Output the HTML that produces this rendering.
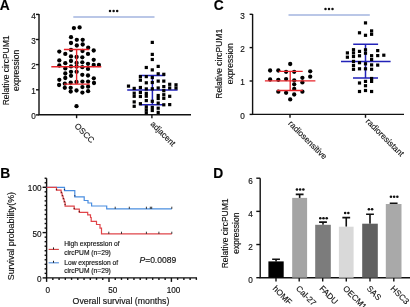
<!DOCTYPE html>
<html><head><meta charset="utf-8"><style>
html,body{margin:0;padding:0;background:#fff;}
body{width:410px;height:307px;overflow:hidden;}
svg{display:block;font-family:"Liberation Sans", sans-serif;filter:blur(0.3px);}
text{stroke:#111;stroke-width:0.15px;}

</style></head><body>
<svg width="410" height="307" viewBox="0 0 410 307">
<text x="-0.2" y="9.9" font-size="13.8" font-weight="bold">A</text><text x="213.8" y="9.9" font-size="13.8" font-weight="bold">C</text><text x="0.3" y="177.9" font-size="13.8" font-weight="bold">B</text><text x="213.3" y="177.8" font-size="13.8" font-weight="bold">D</text><g stroke="#111" stroke-width="1.4" fill="none"><path d="M39,14 V114.8 H191"/><path d="M36,14.4 H39"/><path d="M36,39.5 H39"/><path d="M36,64.6 H39"/><path d="M36,89.8 H39"/><path d="M36,114.9 H39"/><path d="M76.6,114.8 V118.2"/><path d="M151.9,114.8 V118.2"/></g><g font-size="8.2" text-anchor="end" fill="#111"><text x="35.8" y="18.6">4</text><text x="35.8" y="43.7">3</text><text x="35.8" y="68.8">2</text><text x="35.8" y="94.0">1</text><text x="35.8" y="119.10000000000001">0</text></g><g font-size="8.5" fill="#111" text-anchor="middle"><text transform="translate(8.5,70.4) rotate(-90)">Relative circPUM1</text><text transform="translate(19.4,70.4) rotate(-90)">expression</text></g><g font-size="8.3" fill="#111"><text transform="translate(74,126.5) rotate(45)">OSCC</text><text transform="translate(150,124.5) rotate(45)">adjacent</text></g><path d="M73.3,16.9 H154.5" stroke="#a3b5df" stroke-width="1.5"/><g fill="#111"><circle cx="110" cy="10.9" r="1.25"/><circle cx="113.6" cy="10.9" r="1.25"/><circle cx="117.2" cy="10.9" r="1.25"/></g><g fill="#000"><circle cx="73.9" cy="28.1" r="2.15"/><circle cx="79.6" cy="27.4" r="2.15"/><circle cx="71" cy="37.2" r="2.15"/><circle cx="76.8" cy="39.8" r="2.15"/><circle cx="82.7" cy="39.8" r="2.15"/><circle cx="71" cy="43" r="2.15"/><circle cx="76.8" cy="45.5" r="2.15"/><circle cx="82.7" cy="44.5" r="2.15"/><circle cx="88.2" cy="47.7" r="2.15"/><circle cx="71" cy="49.9" r="2.15"/><circle cx="82.5" cy="51" r="2.15"/><circle cx="93.7" cy="50.5" r="2.15"/><circle cx="59.3" cy="51.6" r="2.15"/><circle cx="65.3" cy="53.9" r="2.15"/><circle cx="88" cy="53.9" r="2.15"/><circle cx="71" cy="56.4" r="2.15"/><circle cx="76.6" cy="57" r="2.15"/><circle cx="82.3" cy="57.3" r="2.15"/><circle cx="71" cy="61" r="2.15"/><circle cx="59.3" cy="60.4" r="2.15"/><circle cx="93.7" cy="59.8" r="2.15"/><circle cx="65.3" cy="63.2" r="2.15"/><circle cx="76.6" cy="63" r="2.15"/><circle cx="82.3" cy="62.3" r="2.15"/><circle cx="88" cy="63.8" r="2.15"/><circle cx="59.3" cy="65.5" r="2.15"/><circle cx="71" cy="66.4" r="2.15"/><circle cx="76.6" cy="66.6" r="2.15"/><circle cx="82.3" cy="67.2" r="2.15"/><circle cx="93.7" cy="65" r="2.15"/><circle cx="98.9" cy="65" r="2.15"/><circle cx="65.3" cy="68.4" r="2.15"/><circle cx="88" cy="68.9" r="2.15"/><circle cx="71" cy="71.8" r="2.15"/><circle cx="76.6" cy="71.8" r="2.15"/><circle cx="65.3" cy="73.5" r="2.15"/><circle cx="82.3" cy="74.8" r="2.15"/><circle cx="71" cy="75.8" r="2.15"/><circle cx="88" cy="75.5" r="2.15"/><circle cx="59.3" cy="79.8" r="2.15"/><circle cx="65.3" cy="78" r="2.15"/><circle cx="93.8" cy="78.3" r="2.15"/><circle cx="64.8" cy="83.7" r="2.15"/><circle cx="70.7" cy="82.6" r="2.15"/><circle cx="76.5" cy="82" r="2.15"/><circle cx="82.4" cy="81.6" r="2.15"/><circle cx="88.1" cy="81.6" r="2.15"/><circle cx="94" cy="83" r="2.15"/><circle cx="59.1" cy="85" r="2.15"/><circle cx="64.8" cy="87.8" r="2.15"/><circle cx="70.7" cy="87.8" r="2.15"/><circle cx="82.4" cy="87.1" r="2.15"/><circle cx="88.1" cy="86.7" r="2.15"/><circle cx="70.7" cy="91.6" r="2.15"/><circle cx="76.5" cy="90.5" r="2.15"/><circle cx="82.4" cy="92.6" r="2.15"/><circle cx="88.1" cy="91.2" r="2.15"/><circle cx="76.5" cy="106.2" r="2.15"/></g><g stroke="#e8242a" stroke-width="1.4" fill="none"><path d="M63.9,49.5 H89.3 M51.3,66.7 H101.3 M63.9,84.1 H89.9 M76.6,49.5 V84.1"/></g><g stroke="#2222b8" stroke-width="1.5" fill="none"><path d="M139.1,75.5 H165.1 M127.2,90.1 H177.6 M139.3,104.7 H164.8 M152.4,75.5 V104.7"/></g><g fill="#000"><rect x="126.90" y="84.50" width="3.2" height="3.2"/><rect x="132.60" y="86.80" width="3.2" height="3.2"/><rect x="132.60" y="91.60" width="3.2" height="3.2"/><rect x="132.60" y="94.70" width="3.2" height="3.2"/><rect x="132.60" y="100.30" width="3.2" height="3.2"/><rect x="132.60" y="104.70" width="3.2" height="3.2"/><rect x="138.80" y="75.00" width="3.2" height="3.2"/><rect x="138.80" y="78.60" width="3.2" height="3.2"/><rect x="138.80" y="85.90" width="3.2" height="3.2"/><rect x="138.80" y="90.90" width="3.2" height="3.2"/><rect x="138.80" y="94.90" width="3.2" height="3.2"/><rect x="138.80" y="102.10" width="3.2" height="3.2"/><rect x="144.70" y="65.90" width="3.2" height="3.2"/><rect x="144.70" y="75.00" width="3.2" height="3.2"/><rect x="144.70" y="81.20" width="3.2" height="3.2"/><rect x="144.70" y="87.30" width="3.2" height="3.2"/><rect x="144.70" y="91.80" width="3.2" height="3.2"/><rect x="144.70" y="94.60" width="3.2" height="3.2"/><rect x="144.70" y="99.00" width="3.2" height="3.2"/><rect x="144.70" y="105.30" width="3.2" height="3.2"/><rect x="144.70" y="108.30" width="3.2" height="3.2"/><rect x="144.70" y="111.20" width="3.2" height="3.2"/><rect x="150.70" y="40.80" width="3.2" height="3.2"/><rect x="150.70" y="52.80" width="3.2" height="3.2"/><rect x="150.70" y="57.90" width="3.2" height="3.2"/><rect x="150.70" y="68.30" width="3.2" height="3.2"/><rect x="150.70" y="75.90" width="3.2" height="3.2"/><rect x="150.70" y="80.90" width="3.2" height="3.2"/><rect x="150.70" y="87.20" width="3.2" height="3.2"/><rect x="150.70" y="99.70" width="3.2" height="3.2"/><rect x="150.70" y="105.80" width="3.2" height="3.2"/><rect x="150.70" y="108.90" width="3.2" height="3.2"/><rect x="156.60" y="64.80" width="3.2" height="3.2"/><rect x="156.60" y="72.20" width="3.2" height="3.2"/><rect x="156.60" y="79.50" width="3.2" height="3.2"/><rect x="156.60" y="86.40" width="3.2" height="3.2"/><rect x="156.60" y="93.90" width="3.2" height="3.2"/><rect x="156.60" y="96.90" width="3.2" height="3.2"/><rect x="156.60" y="101.50" width="3.2" height="3.2"/><rect x="156.60" y="106.60" width="3.2" height="3.2"/><rect x="156.60" y="110.80" width="3.2" height="3.2"/><rect x="162.20" y="72.70" width="3.2" height="3.2"/><rect x="162.20" y="79.50" width="3.2" height="3.2"/><rect x="162.20" y="85.00" width="3.2" height="3.2"/><rect x="162.20" y="89.10" width="3.2" height="3.2"/><rect x="162.20" y="93.10" width="3.2" height="3.2"/><rect x="162.20" y="96.70" width="3.2" height="3.2"/><rect x="162.20" y="103.20" width="3.2" height="3.2"/><rect x="168.10" y="82.70" width="3.2" height="3.2"/><rect x="168.10" y="86.40" width="3.2" height="3.2"/><rect x="168.10" y="94.70" width="3.2" height="3.2"/><rect x="168.10" y="103.00" width="3.2" height="3.2"/><rect x="174.40" y="83.20" width="3.2" height="3.2"/><rect x="174.40" y="86.40" width="3.2" height="3.2"/></g><g stroke="#111" stroke-width="1.4" fill="none"><path d="M252.6,14 V114.4 H404"/><path d="M249.6,14.3 H252.6"/><path d="M249.6,47.6 H252.6"/><path d="M249.6,81 H252.6"/><path d="M249.6,114.4 H252.6"/><path d="M290,114.4 V117.8"/><path d="M365.5,114.4 V117.8"/></g><g font-size="8.2" text-anchor="end" fill="#111"><text x="244.8" y="18.700000000000003">3</text><text x="244.8" y="52.0">2</text><text x="244.8" y="85.4">1</text><text x="244.8" y="118.80000000000001">0</text></g><g font-size="8.5" fill="#111" text-anchor="middle"><text transform="translate(222.3,63.8) rotate(-90)">Relative circPUM1</text><text transform="translate(233,63.8) rotate(-90)">expression</text></g><g font-size="8.3" fill="#111"><text transform="translate(287.8,124) rotate(45)">radiosensitive</text><text transform="translate(365.3,121.7) rotate(45)">radioresistant</text></g><path d="M288.5,15.1 H369.8" stroke="#a3b5df" stroke-width="1.5"/><g fill="#111"><circle cx="325.5" cy="8.9" r="1.25"/><circle cx="329" cy="8.9" r="1.25"/><circle cx="332.5" cy="8.9" r="1.25"/></g><g fill="#000"><circle cx="290.2" cy="64" r="2.15"/><circle cx="270.1" cy="70.5" r="2.15"/><circle cx="278.3" cy="70.5" r="2.15"/><circle cx="286.1" cy="71.8" r="2.15"/><circle cx="294.2" cy="71.8" r="2.15"/><circle cx="310.2" cy="71.3" r="2.15"/><circle cx="310.2" cy="76.7" r="2.15"/><circle cx="302.4" cy="77.8" r="2.15"/><circle cx="270.1" cy="79.5" r="2.15"/><circle cx="278.3" cy="79.8" r="2.15"/><circle cx="286.1" cy="79.1" r="2.15"/><circle cx="294.2" cy="80.3" r="2.15"/><circle cx="302.4" cy="82.4" r="2.15"/><circle cx="294.2" cy="84.3" r="2.15"/><circle cx="294.2" cy="88.9" r="2.15"/><circle cx="278.3" cy="91.7" r="2.15"/><circle cx="286.1" cy="92.8" r="2.15"/><circle cx="302.4" cy="91.7" r="2.15"/><circle cx="294.2" cy="94.5" r="2.15"/><circle cx="290.2" cy="99.4" r="2.15"/></g><g stroke="#e8242a" stroke-width="1.3" fill="none"><path d="M278.8,71.3 H302.7 M264.9,80.8 H315.4 M277.1,90.5 H302.7 M290.2,71.3 V90.5"/></g><g stroke="#2222b8" stroke-width="1.5" fill="none"><path d="M353.2,44.3 H378.1 M341,61.4 H390.6 M353,78.1 H378 M365.5,44.3 V78.1"/></g><g fill="#000"><rect x="345.80" y="51.30" width="3.2" height="3.2"/><rect x="345.80" y="55.60" width="3.2" height="3.2"/><rect x="351.90" y="48.10" width="3.2" height="3.2"/><rect x="351.90" y="51.30" width="3.2" height="3.2"/><rect x="351.90" y="54.90" width="3.2" height="3.2"/><rect x="351.90" y="59.80" width="3.2" height="3.2"/><rect x="351.90" y="63.80" width="3.2" height="3.2"/><rect x="351.90" y="67.70" width="3.2" height="3.2"/><rect x="357.90" y="31.20" width="3.2" height="3.2"/><rect x="357.90" y="49.80" width="3.2" height="3.2"/><rect x="357.90" y="54.20" width="3.2" height="3.2"/><rect x="357.90" y="61.10" width="3.2" height="3.2"/><rect x="357.90" y="67.20" width="3.2" height="3.2"/><rect x="357.90" y="81.40" width="3.2" height="3.2"/><rect x="357.90" y="89.90" width="3.2" height="3.2"/><rect x="363.90" y="21.30" width="3.2" height="3.2"/><rect x="363.90" y="33.70" width="3.2" height="3.2"/><rect x="363.90" y="48.20" width="3.2" height="3.2"/><rect x="363.90" y="51.60" width="3.2" height="3.2"/><rect x="363.90" y="62.20" width="3.2" height="3.2"/><rect x="363.90" y="67.20" width="3.2" height="3.2"/><rect x="363.90" y="79.80" width="3.2" height="3.2"/><rect x="363.90" y="84.10" width="3.2" height="3.2"/><rect x="363.90" y="88.90" width="3.2" height="3.2"/><rect x="370.00" y="29.30" width="3.2" height="3.2"/><rect x="370.00" y="32.70" width="3.2" height="3.2"/><rect x="370.00" y="54.10" width="3.2" height="3.2"/><rect x="370.00" y="57.90" width="3.2" height="3.2"/><rect x="370.00" y="63.30" width="3.2" height="3.2"/><rect x="370.00" y="67.70" width="3.2" height="3.2"/><rect x="370.00" y="76.90" width="3.2" height="3.2"/><rect x="370.00" y="79.80" width="3.2" height="3.2"/><rect x="370.00" y="89.90" width="3.2" height="3.2"/><rect x="376.10" y="49.00" width="3.2" height="3.2"/><rect x="376.10" y="54.00" width="3.2" height="3.2"/><rect x="376.10" y="63.50" width="3.2" height="3.2"/><rect x="382.20" y="53.60" width="3.2" height="3.2"/></g><g stroke="#111" stroke-width="1.4" fill="none"><path d="M46.6,178.3 V277.9 H197"/><path d="M42.6,277.90 H46.6"/><path d="M44.6,273.37 H46.6"/><path d="M44.6,268.84 H46.6"/><path d="M44.6,264.31 H46.6"/><path d="M44.6,259.78 H46.6"/><path d="M44.6,255.25 H46.6"/><path d="M44.6,250.72 H46.6"/><path d="M44.6,246.19 H46.6"/><path d="M44.6,241.66 H46.6"/><path d="M44.6,237.13 H46.6"/><path d="M42.6,232.60 H46.6"/><path d="M44.6,228.07 H46.6"/><path d="M44.6,223.54 H46.6"/><path d="M44.6,219.01 H46.6"/><path d="M44.6,214.48 H46.6"/><path d="M44.6,209.95 H46.6"/><path d="M44.6,205.42 H46.6"/><path d="M44.6,200.89 H46.6"/><path d="M44.6,196.36 H46.6"/><path d="M44.6,191.83 H46.6"/><path d="M42.6,187.30 H46.6"/><path d="M44.6,182.77 H46.6"/><path d="M44.6,178.24 H46.6"/><path d="M46.60,277.9 V281.9"/><path d="M52.84,277.9 V279.9"/><path d="M59.08,277.9 V279.9"/><path d="M65.32,277.9 V279.9"/><path d="M71.56,277.9 V279.9"/><path d="M77.80,277.9 V279.9"/><path d="M84.04,277.9 V279.9"/><path d="M90.28,277.9 V279.9"/><path d="M96.52,277.9 V279.9"/><path d="M102.76,277.9 V279.9"/><path d="M109.00,277.9 V281.9"/><path d="M115.24,277.9 V279.9"/><path d="M121.48,277.9 V279.9"/><path d="M127.72,277.9 V279.9"/><path d="M133.96,277.9 V279.9"/><path d="M140.20,277.9 V279.9"/><path d="M146.44,277.9 V279.9"/><path d="M152.68,277.9 V279.9"/><path d="M158.92,277.9 V279.9"/><path d="M165.16,277.9 V279.9"/><path d="M171.40,277.9 V281.9"/><path d="M177.64,277.9 V279.9"/><path d="M183.88,277.9 V279.9"/><path d="M190.12,277.9 V279.9"/><path d="M196.36,277.9 V279.9"/></g><g font-size="8.2" text-anchor="end" fill="#111"><text x="41.5" y="191.20000000000002">100</text><text x="41.5" y="236.5">50</text><text x="41.5" y="281.79999999999995">0</text></g><g font-size="8.2" text-anchor="middle" fill="#111"><text x="47.8" y="293.4">0</text><text x="112.7" y="293.4">50</text><text x="173.5" y="293.4">100</text></g><text x="121" y="304.3" font-size="8.75" text-anchor="middle" fill="#111">Overall survival (months)</text><text transform="translate(14.1,236.1) rotate(-90)" font-size="8.9" text-anchor="middle" fill="#111">Survival probability(%)</text><path d="M46.6,187.4 H64.5 V190.6 H74.8 V196.9 H84.2 V200.5 H88 V203 H91.6 V206.0 H106.7 V208.9 H171.8" stroke="#4a8ee0" stroke-width="1.2" fill="none"/><path d="M46.6,187.4 H56.5 V190.2 H61.1 V193 H62.1 V196 H63.1 V199 H64.1 V202 H65.1 V206.2 H74.2 V209.1 H79.3 V212.3 H87.7 V214.8 H90.5 V217.5 H91.2 V221.3 H96.5 V224.5 H100 V228.2 H101.5 V233.9 H171.8" stroke="#e0454a" stroke-width="1.2" fill="none"/><g fill="#5a1c1c"><rect x="55.9" y="189.0" width="1.2" height="1.2"/><rect x="60.9" y="191.70000000000002" width="1.2" height="1.2"/><rect x="61.9" y="194.9" width="1.2" height="1.2"/><rect x="62.9" y="197.9" width="1.2" height="1.2"/><rect x="63.9" y="200.9" width="1.2" height="1.2"/><rect x="64.5" y="203.9" width="1.2" height="1.2"/><rect x="73.60000000000001" y="207.9" width="1.2" height="1.2"/><rect x="78.7" y="210.9" width="1.2" height="1.2"/></g><g fill="#1c2c5a"><rect x="63.9" y="189.0" width="1.2" height="1.2"/><rect x="74.2" y="195.20000000000002" width="1.2" height="1.2"/></g><g stroke="#222" stroke-width="0.9"><path d="M115.2,206.7 V208.9"/><path d="M129.3,206.7 V208.9"/><path d="M146.4,206.7 V208.9"/><path d="M150.3,206.7 V208.9"/><path d="M151.7,206.7 V208.9"/><path d="M171.8,206.7 V208.9"/><path d="M108.8,231.7 V233.9"/><path d="M121.5,231.7 V233.9"/><path d="M146.4,231.7 V233.9"/><path d="M158.9,231.7 V233.9"/><path d="M171.8,231.7 V233.9"/></g><path d="M48.6,249.4 H58.9" stroke="#d23c3c" stroke-width="1.1"/><path d="M53.5,247.4 V249.4" stroke="#222" stroke-width="1"/><path d="M48.6,262.8 H58.9" stroke="#4a88d8" stroke-width="1.1"/><path d="M53.5,260.8 V262.8" stroke="#222" stroke-width="1"/><g font-size="6.7" fill="#111"><text x="64.2" y="246.3">High expression of</text><text x="64.2" y="254.6">circPUM (n=29)</text><text x="64.2" y="265.3">Low expression of</text><text x="64.2" y="273.2">circPUM (n=29)</text></g><text x="139.5" y="263" font-size="8.5" fill="#111"><tspan font-style="italic">P</tspan>=0.0089</text><g stroke="#111" stroke-width="1.4" fill="none"><path d="M260.2,178.2 V277.7 H411"/><path d="M256.3,277.70 H260.2"/><path d="M256.3,244.53 H260.2"/><path d="M256.3,211.37 H260.2"/><path d="M256.3,178.20 H260.2"/><path d="M276,277.7 V281.4"/><path d="M299.2,277.7 V281.4"/><path d="M322.7,277.7 V281.4"/><path d="M346.3,277.7 V281.4"/><path d="M370,277.7 V281.4"/><path d="M393.8,277.7 V281.4"/></g><g font-size="8.2" text-anchor="end" fill="#111"><text x="252.7" y="283.30">0</text><text x="252.7" y="250.13">2</text><text x="252.7" y="216.97">4</text><text x="252.7" y="183.80">6</text></g><g font-size="8.5" fill="#111" text-anchor="middle"><text transform="translate(228.4,233.4) rotate(-90)">Relative circPUM1</text><text transform="translate(238.6,233.2) rotate(-90)">expression</text></g><path d="M276.05,261.4 V259.2 M272.15,259.2 H279.95" stroke="#111" stroke-width="1.6" fill="none"/><rect x="268.4" y="261.4" width="15.30" height="16.30" fill="#000"/><path d="M299.65,197.9 V194.4 M295.75,194.4 H303.55" stroke="#111" stroke-width="1.6" fill="none"/><rect x="292.2" y="197.9" width="14.90" height="79.80" fill="#a4a4a4"/><g fill="#111"><circle cx="296.95" cy="189.5" r="1.3"/><circle cx="300.15" cy="189.5" r="1.3"/><circle cx="303.34999999999997" cy="189.5" r="1.3"/></g><path d="M323.00,224.8 V222.1 M319.10,222.1 H326.90" stroke="#111" stroke-width="1.6" fill="none"/><rect x="315.2" y="224.8" width="15.60" height="52.90" fill="#7c7c7c"/><g fill="#111"><circle cx="320.3" cy="218.2" r="1.3"/><circle cx="323.5" cy="218.2" r="1.3"/><circle cx="326.7" cy="218.2" r="1.3"/></g><path d="M346.25,226.7 V217.6 M342.35,217.6 H350.15" stroke="#111" stroke-width="1.6" fill="none"/><rect x="338.9" y="226.7" width="14.70" height="51.00" fill="#d9d9d9"/><g fill="#111"><circle cx="345.15" cy="213" r="1.3"/><circle cx="348.35" cy="213" r="1.3"/></g><path d="M370.00,223.7 V214.2 M366.10,214.2 H373.90" stroke="#111" stroke-width="1.6" fill="none"/><rect x="362.2" y="223.7" width="15.60" height="54.00" fill="#606060"/><g fill="#111"><circle cx="368.9" cy="209.3" r="1.3"/><circle cx="372.1" cy="209.3" r="1.3"/></g><path d="M393.65,204 V203.3 M389.75,203.3 H397.55" stroke="#111" stroke-width="1.6" fill="none"/><rect x="385.8" y="204" width="15.70" height="73.70" fill="#a9a9a9"/><g fill="#111"><circle cx="390.95" cy="196.8" r="1.3"/><circle cx="394.15" cy="196.8" r="1.3"/><circle cx="397.34999999999997" cy="196.8" r="1.3"/></g><g font-size="8.3" fill="#111"><text transform="translate(272.2,289.1) rotate(45)">hOMF</text><text transform="translate(295.4,289.1) rotate(45)">Cal-27</text><text transform="translate(318.9,289.1) rotate(45)">FADU</text><text transform="translate(342.5,289.1) rotate(45)">OECM1</text><text transform="translate(366.2,289.1) rotate(45)">SAS</text><text transform="translate(390.0,289.1) rotate(45)">HSC3</text></g>
</svg>
</body></html>
